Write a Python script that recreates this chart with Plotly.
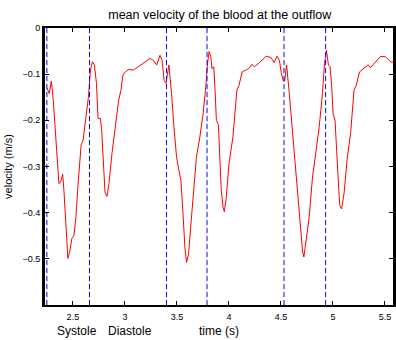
import plotly.graph_objects as go

# time (s) and mean outflow velocity (m/s)
time_s = [
    2.251, 2.273, 2.293, 2.312, 2.344, 2.366, 2.382, 2.402, 2.414, 2.433,
    2.452, 2.471, 2.490, 2.510, 2.529, 2.548, 2.579, 2.598, 2.624, 2.650,
    2.669, 2.688, 2.707, 2.727, 2.742, 2.765, 2.777, 2.796, 2.809, 2.828,
    2.847, 2.876, 2.908, 2.940, 2.962, 2.981, 3.004, 3.035, 3.083, 3.131,
    3.179, 3.243, 3.274, 3.306, 3.338, 3.358, 3.377, 3.396, 3.423,
    3.449, 3.472, 3.497, 3.520, 3.539, 3.561, 3.577, 3.593, 3.612, 3.635,
    3.664, 3.688, 3.721, 3.752, 3.778, 3.794, 3.810, 3.826, 3.838, 3.855,
    3.867, 3.880, 3.899, 3.912, 3.927, 3.944, 3.956, 3.975, 4.001, 4.039,
    4.077, 4.097, 4.128, 4.166, 4.199, 4.221, 4.247, 4.294, 4.358, 4.405,
    4.434, 4.463, 4.486, 4.505, 4.524, 4.536, 4.555,
    4.581, 4.613, 4.644, 4.670, 4.692, 4.708, 4.721, 4.740, 4.772, 4.804,
    4.836, 4.868, 4.900, 4.919, 4.938, 4.957, 4.973, 4.989, 5.002, 5.021,
    5.036, 5.053, 5.065, 5.084, 5.107, 5.139, 5.170, 5.203, 5.225, 5.256,
    5.298, 5.339, 5.361, 5.409, 5.457, 5.505, 5.553, 5.588,
]
velocity = [
    -0.130, -0.142, -0.115, -0.157, -0.265, -0.337, -0.334, -0.317, -0.352, -0.432,
    -0.499, -0.483, -0.456, -0.450, -0.410, -0.345, -0.254, -0.243, -0.193, -0.149,
    -0.091, -0.073, -0.080, -0.120, -0.196, -0.196, -0.222, -0.300, -0.356, -0.365,
    -0.337, -0.272, -0.215, -0.157, -0.135, -0.102, -0.095, -0.090, -0.091, -0.084,
    -0.077, -0.066, -0.070, -0.080, -0.059, -0.070, -0.113, -0.120, -0.080,
    -0.142, -0.215, -0.280, -0.309, -0.330, -0.410, -0.475, -0.508, -0.490, -0.425,
    -0.338, -0.280, -0.236, -0.186, -0.128, -0.077, -0.051, -0.062, -0.088, -0.084,
    -0.135, -0.200, -0.209, -0.265, -0.352, -0.388, -0.398, -0.367, -0.294, -0.236,
    -0.135, -0.124, -0.095, -0.091, -0.086, -0.079, -0.084, -0.075, -0.061, -0.064,
    -0.075, -0.061, -0.070, -0.099, -0.115, -0.115, -0.080,
    -0.142, -0.229, -0.300, -0.367, -0.439, -0.483, -0.496, -0.468, -0.410, -0.323,
    -0.265, -0.215, -0.142, -0.077, -0.048, -0.080, -0.084, -0.128, -0.186, -0.200,
    -0.265, -0.352, -0.383, -0.392, -0.359, -0.280, -0.229, -0.135, -0.124, -0.095,
    -0.088, -0.080, -0.086, -0.073, -0.062, -0.062, -0.073, -0.075,
]

systole_starts = [2.25, 3.40, 4.53]     # dashed markers: start of systole
diastole_starts = [2.66, 3.79, 4.93]    # dashed markers: start of diastole

x_ticks = [2.5, 3, 3.5, 4, 4.5, 5, 5.5]
x_tick_labels = ["2.5", "3", "3.5", "4", "4.5", "5", "5.5"]
y_ticks = [0, -0.1, -0.2, -0.3, -0.4, -0.5]
y_tick_labels = ["0", "\u22120.1", "\u22120.2", "\u22120.3", "\u22120.4", "\u22120.5"]

x_range = [2.232, 5.578]
y_range = [-0.6, 0]


def vlines(xs):
    lx, ly = [], []
    for x in xs:
        lx += [x, x, None]
        ly += [y_range[0], y_range[1], None]
    return lx, ly


fig = go.Figure()
fig.add_trace(go.Scatter(x=time_s, y=velocity, mode="lines",
                         line=dict(color="#ff0000", width=1),
                         showlegend=False))
for xs in (systole_starts, diastole_starts):
    lx, ly = vlines(xs)
    fig.add_trace(go.Scatter(x=lx, y=ly, mode="lines",
                             line=dict(color="#0000ff", width=1, dash="5px,3px"),
                             hoverinfo="skip", showlegend=False))

font = "Liberation Sans, Arial, sans-serif"
fig.update_layout(
    width=396, height=340,
    margin=dict(l=45, r=0, t=28, b=35),
    paper_bgcolor="white", plot_bgcolor="white",
    font=dict(family=font, color="black", size=9),
    title=dict(text="mean velocity of the blood at the outflow",
               x=0.555, xanchor="center", y=0.958, yanchor="middle",
               font=dict(size=12.5, family=font, color="black")),
    xaxis=dict(range=x_range, tickvals=x_ticks, ticktext=x_tick_labels,
               showgrid=False, zeroline=False, showline=True,
               linecolor="black", linewidth=2, mirror="allticks",
               ticks="inside", ticklen=4, tickcolor="black", tickwidth=1,
               tickfont=dict(size=9), ticklabelstandoff=2),
    yaxis=dict(range=y_range, tickvals=y_ticks, ticktext=y_tick_labels,
               showgrid=False, zeroline=False, showline=True,
               linecolor="black", linewidth=3, mirror="allticks",
               ticks="inside", ticklen=4, tickcolor="black", tickwidth=1,
               tickfont=dict(size=9),
               title=dict(text="velocity (m/s)", font=dict(size=11), standoff=8)),
    annotations=[
        dict(text="time (s)", xref="paper", yref="paper", x=0.50, y=-0.062,
             xanchor="center", yanchor="top", showarrow=False,
             font=dict(size=12, family=font)),
        dict(text="Systole", xref="x", yref="paper", x=2.54, y=-0.062,
             xanchor="center", yanchor="top", showarrow=False,
             font=dict(size=12, family=font)),
        dict(text="Diastole", xref="x", yref="paper", x=3.05, y=-0.062,
             xanchor="center", yanchor="top", showarrow=False,
             font=dict(size=12, family=font)),
    ],
)

fig.write_html("out.html",
               config={"displayModeBar": False},
               post_script="document.body.style.margin='0';document.body.style.overflow='hidden';")
